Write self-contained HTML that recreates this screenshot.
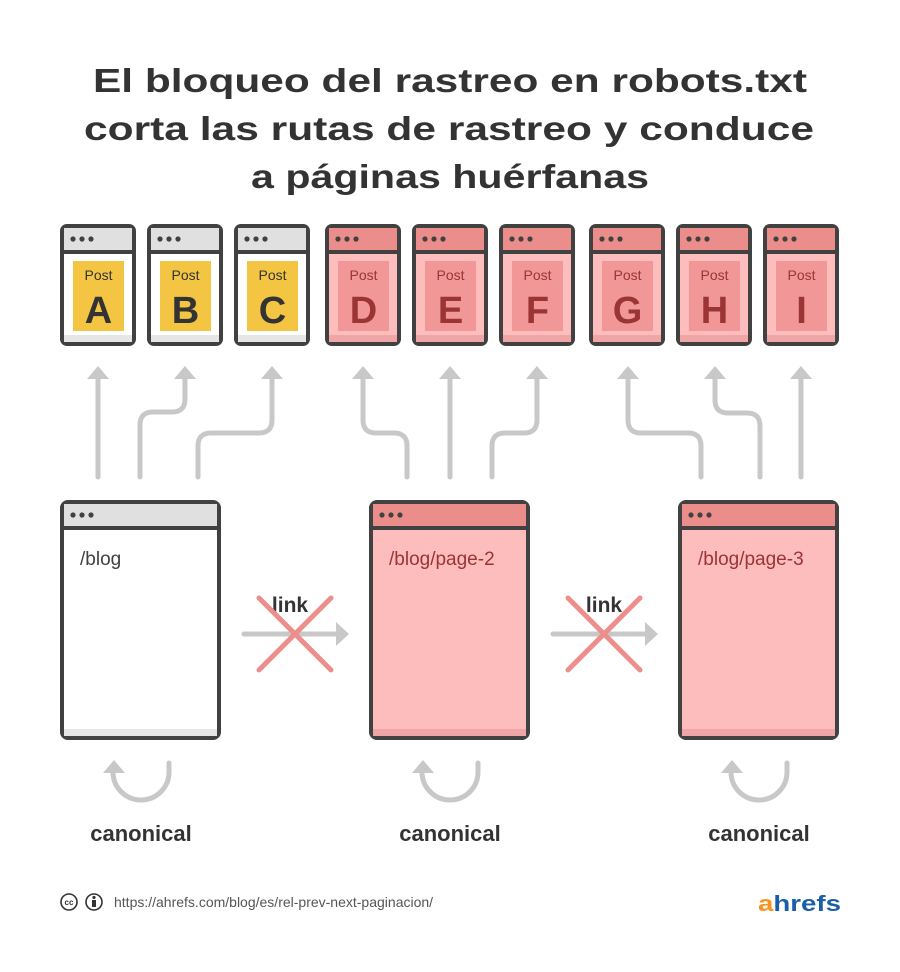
<!DOCTYPE html>
<html><head><meta charset="utf-8"><style>
html,body{margin:0;padding:0;background:#fff;}
svg{display:block;}
text{font-family:"Liberation Sans",sans-serif;}
</style></head><body>
<svg width="900" height="972" viewBox="0 0 900 972" xmlns="http://www.w3.org/2000/svg">
<rect width="900" height="972" fill="#fff"/>
<g fill="#333" font-weight="bold" font-size="33" text-anchor="middle">
<text x="450" y="92" textLength="714" lengthAdjust="spacingAndGlyphs">El bloqueo del rastreo en robots.txt</text>
<text x="449" y="140" textLength="730" lengthAdjust="spacingAndGlyphs">corta las rutas de rastreo y conduce</text>
<text x="450" y="188" textLength="398" lengthAdjust="spacingAndGlyphs">a páginas huérfanas</text>
</g>

<defs>
<g id="dots"><circle cx="0" cy="0" r="2.6" fill="#414141"/><circle cx="9" cy="0" r="2.6" fill="#414141"/><circle cx="18" cy="0" r="2.6" fill="#414141"/></g>
</defs>

<!-- small post cards -->
<g id="cards">
<!-- yellow cards -->
<g>
<rect x="62" y="226" width="72" height="118" rx="5" fill="#fff" stroke="#414141" stroke-width="4"/>
<rect x="64" y="228" width="68" height="23" fill="#e0e0e0"/>
<rect x="64" y="335" width="68" height="7" fill="#e6e6e6"/>
<line x1="62" y1="252" x2="134" y2="252" stroke="#414141" stroke-width="4"/>
<use href="#dots" x="73" y="239"/>
<rect x="73" y="261" width="51" height="70" fill="#f4c542"/>
<text x="98.5" y="280" font-size="14" fill="#333" text-anchor="middle">Post</text>
<text x="98.5" y="323" font-size="38" font-weight="bold" fill="#333" text-anchor="middle">A</text>
</g>
<g>
<rect x="149" y="226" width="72" height="118" rx="5" fill="#fff" stroke="#414141" stroke-width="4"/>
<rect x="151" y="228" width="68" height="23" fill="#e0e0e0"/>
<rect x="151" y="335" width="68" height="7" fill="#e6e6e6"/>
<line x1="149" y1="252" x2="221" y2="252" stroke="#414141" stroke-width="4"/>
<use href="#dots" x="160" y="239"/>
<rect x="160" y="261" width="51" height="70" fill="#f4c542"/>
<text x="185.5" y="280" font-size="14" fill="#333" text-anchor="middle">Post</text>
<text x="185.5" y="323" font-size="38" font-weight="bold" fill="#333" text-anchor="middle">B</text>
</g>
<g>
<rect x="236" y="226" width="72" height="118" rx="5" fill="#fff" stroke="#414141" stroke-width="4"/>
<rect x="238" y="228" width="68" height="23" fill="#e0e0e0"/>
<rect x="238" y="335" width="68" height="7" fill="#e6e6e6"/>
<line x1="236" y1="252" x2="308" y2="252" stroke="#414141" stroke-width="4"/>
<use href="#dots" x="247" y="239"/>
<rect x="247" y="261" width="51" height="70" fill="#f4c542"/>
<text x="272.5" y="280" font-size="14" fill="#333" text-anchor="middle">Post</text>
<text x="272.5" y="323" font-size="38" font-weight="bold" fill="#333" text-anchor="middle">C</text>
</g>
</g>
<g id="pinkcards"></g>

<!-- pink cards generated inline -->
<g>
<!-- D -->
<rect x="327" y="226" width="72" height="118" rx="5" fill="#fdbdbd" stroke="#414141" stroke-width="4"/>
<rect x="329" y="228" width="68" height="23" fill="#eb8e8b"/>
<rect x="329" y="335" width="68" height="7" fill="#f0a6a6"/>
<line x1="327" y1="252" x2="399" y2="252" stroke="#414141" stroke-width="4"/>
<use href="#dots" x="338" y="239"/>
<rect x="338" y="261" width="51" height="70" fill="#f29797"/>
<text x="363.5" y="280" font-size="14" fill="#9b3434" text-anchor="middle">Post</text>
<text x="363.5" y="323" font-size="38" font-weight="bold" fill="#9b3434" text-anchor="middle">D</text>
<!-- E -->
<rect x="414" y="226" width="72" height="118" rx="5" fill="#fdbdbd" stroke="#414141" stroke-width="4"/>
<rect x="416" y="228" width="68" height="23" fill="#eb8e8b"/>
<rect x="416" y="335" width="68" height="7" fill="#f0a6a6"/>
<line x1="414" y1="252" x2="486" y2="252" stroke="#414141" stroke-width="4"/>
<use href="#dots" x="425" y="239"/>
<rect x="425" y="261" width="51" height="70" fill="#f29797"/>
<text x="450.5" y="280" font-size="14" fill="#9b3434" text-anchor="middle">Post</text>
<text x="450.5" y="323" font-size="38" font-weight="bold" fill="#9b3434" text-anchor="middle">E</text>
<!-- F -->
<rect x="501" y="226" width="72" height="118" rx="5" fill="#fdbdbd" stroke="#414141" stroke-width="4"/>
<rect x="503" y="228" width="68" height="23" fill="#eb8e8b"/>
<rect x="503" y="335" width="68" height="7" fill="#f0a6a6"/>
<line x1="501" y1="252" x2="573" y2="252" stroke="#414141" stroke-width="4"/>
<use href="#dots" x="512" y="239"/>
<rect x="512" y="261" width="51" height="70" fill="#f29797"/>
<text x="537.5" y="280" font-size="14" fill="#9b3434" text-anchor="middle">Post</text>
<text x="537.5" y="323" font-size="38" font-weight="bold" fill="#9b3434" text-anchor="middle">F</text>
<!-- G -->
<rect x="591" y="226" width="72" height="118" rx="5" fill="#fdbdbd" stroke="#414141" stroke-width="4"/>
<rect x="593" y="228" width="68" height="23" fill="#eb8e8b"/>
<rect x="593" y="335" width="68" height="7" fill="#f0a6a6"/>
<line x1="591" y1="252" x2="663" y2="252" stroke="#414141" stroke-width="4"/>
<use href="#dots" x="602" y="239"/>
<rect x="602" y="261" width="51" height="70" fill="#f29797"/>
<text x="627.5" y="280" font-size="14" fill="#9b3434" text-anchor="middle">Post</text>
<text x="627.5" y="323" font-size="38" font-weight="bold" fill="#9b3434" text-anchor="middle">G</text>
<!-- H -->
<rect x="678" y="226" width="72" height="118" rx="5" fill="#fdbdbd" stroke="#414141" stroke-width="4"/>
<rect x="680" y="228" width="68" height="23" fill="#eb8e8b"/>
<rect x="680" y="335" width="68" height="7" fill="#f0a6a6"/>
<line x1="678" y1="252" x2="750" y2="252" stroke="#414141" stroke-width="4"/>
<use href="#dots" x="689" y="239"/>
<rect x="689" y="261" width="51" height="70" fill="#f29797"/>
<text x="714.5" y="280" font-size="14" fill="#9b3434" text-anchor="middle">Post</text>
<text x="714.5" y="323" font-size="38" font-weight="bold" fill="#9b3434" text-anchor="middle">H</text>
<!-- I -->
<rect x="765" y="226" width="72" height="118" rx="5" fill="#fdbdbd" stroke="#414141" stroke-width="4"/>
<rect x="767" y="228" width="68" height="23" fill="#eb8e8b"/>
<rect x="767" y="335" width="68" height="7" fill="#f0a6a6"/>
<line x1="765" y1="252" x2="837" y2="252" stroke="#414141" stroke-width="4"/>
<use href="#dots" x="776" y="239"/>
<rect x="776" y="261" width="51" height="70" fill="#f29797"/>
<text x="801.5" y="280" font-size="14" fill="#9b3434" text-anchor="middle">Post</text>
<text x="801.5" y="323" font-size="38" font-weight="bold" fill="#9b3434" text-anchor="middle">I</text>
</g>

<!-- crawl arrows -->
<g fill="none" stroke="#c8c8c8" stroke-width="5" stroke-linecap="round">
<path d="M98 477 V376"/>
<path d="M140 477 V425 Q140 412 153 412 H172 Q185 412 185 399 V376"/>
<path d="M198 477 V446 Q198 433 211 433 H259 Q272 433 272 420 V376"/>
<path d="M363 376 V420 Q363 433 376 433 H394 Q407 433 407 446 V477"/>
<path d="M450 477 V376"/>
<path d="M492 477 V446 Q492 433 505 433 H524 Q537 433 537 420 V376"/>
<path d="M628 376 V420 Q628 433 641 433 H688 Q701 433 701 446 V477"/>
<path d="M715 376 V400 Q715 413 728 413 H747 Q760 413 760 426 V477"/>
<path d="M801 477 V376"/>
</g>
<g fill="#c8c8c8">
<polygon points="98,366 87,379 109,379"/>
<polygon points="185,366 174,379 196,379"/>
<polygon points="272,366 261,379 283,379"/>
<polygon points="363,366 352,379 374,379"/>
<polygon points="450,366 439,379 461,379"/>
<polygon points="537,366 526,379 548,379"/>
<polygon points="628,366 617,379 639,379"/>
<polygon points="715,366 704,379 726,379"/>
<polygon points="801,366 790,379 812,379"/>
</g>

<!-- big pages -->
<g>
<rect x="62" y="502" width="157" height="236" rx="6" fill="#fff" stroke="#414141" stroke-width="4"/>
<rect x="64" y="504" width="153" height="23" fill="#e0e0e0"/>
<rect x="64" y="729" width="153" height="7" fill="#e6e6e6"/>
<line x1="62" y1="528" x2="219" y2="528" stroke="#414141" stroke-width="4"/>
<use href="#dots" x="73" y="515"/>
<text x="80" y="565" font-size="19" fill="#414141">/blog</text>

<rect x="371" y="502" width="157" height="236" rx="6" fill="#fdbdbd" stroke="#414141" stroke-width="4"/>
<rect x="373" y="504" width="153" height="23" fill="#eb8e8b"/>
<rect x="373" y="729" width="153" height="7" fill="#f0a6a6"/>
<line x1="371" y1="528" x2="528" y2="528" stroke="#414141" stroke-width="4"/>
<use href="#dots" x="382" y="515"/>
<text x="389" y="565" font-size="19" fill="#9b3434">/blog/page-2</text>

<rect x="680" y="502" width="157" height="236" rx="6" fill="#fdbdbd" stroke="#414141" stroke-width="4"/>
<rect x="682" y="504" width="153" height="23" fill="#eb8e8b"/>
<rect x="682" y="729" width="153" height="7" fill="#f0a6a6"/>
<line x1="680" y1="528" x2="837" y2="528" stroke="#414141" stroke-width="4"/>
<use href="#dots" x="691" y="515"/>
<text x="698" y="565" font-size="19" fill="#9b3434">/blog/page-3</text>
</g>

<!-- link arrows crossed -->
<g>
<line x1="244" y1="634" x2="336" y2="634" stroke="#c8c8c8" stroke-width="5" stroke-linecap="round"/>
<polygon points="349,634 336,622 336,646" fill="#c8c8c8"/>
<text x="290" y="612" font-size="21" font-weight="bold" fill="#333" text-anchor="middle">link</text>
<g stroke="#ec8f8c" stroke-width="5" stroke-linecap="round">
<line x1="259" y1="598" x2="331" y2="670"/><line x1="331" y1="598" x2="259" y2="670"/>
</g>
<line x1="553" y1="634" x2="645" y2="634" stroke="#c8c8c8" stroke-width="5" stroke-linecap="round"/>
<polygon points="658,634 645,622 645,646" fill="#c8c8c8"/>
<text x="604" y="612" font-size="21" font-weight="bold" fill="#333" text-anchor="middle">link</text>
<g stroke="#ec8f8c" stroke-width="5" stroke-linecap="round">
<line x1="568" y1="598" x2="640" y2="670"/><line x1="640" y1="598" x2="568" y2="670"/>
</g>
</g>

<!-- canonical loops -->
<g fill="none" stroke="#c8c8c8" stroke-width="5" stroke-linecap="round">
<path d="M169 763 V772 A28 28 0 0 1 113 772"/>
<path d="M478 763 V772 A28 28 0 0 1 422 772"/>
<path d="M787 763 V772 A28 28 0 0 1 731 772"/>
</g>
<g fill="#c8c8c8">
<polygon points="114,760 103,773 125,773"/>
<polygon points="423,760 412,773 434,773"/>
<polygon points="732,760 721,773 743,773"/>
</g>
<g font-size="22" font-weight="bold" fill="#333" text-anchor="middle">
<text x="141" y="841">canonical</text>
<text x="450" y="841">canonical</text>
<text x="759" y="841">canonical</text>
</g>

<!-- footer -->
<g fill="none" stroke="#333" stroke-width="1.6">
<circle cx="69" cy="902" r="8"/><circle cx="94" cy="902" r="8"/>
</g>
<text x="69" y="905" font-size="8" font-weight="bold" fill="#333" text-anchor="middle">cc</text>
<circle cx="94" cy="897.5" r="1.6" fill="#333"/>
<rect x="92" y="900" width="4" height="7" fill="#333"/>
<text x="114" y="907" font-size="14" fill="#555">https://ahrefs.com/blog/es/rel-prev-next-paginacion/</text>
<text x="758" y="911" font-size="22" font-weight="bold" fill="#1b5ea8" textLength="83" lengthAdjust="spacingAndGlyphs"><tspan fill="#f7941d">a</tspan>hrefs</text>
</svg>
</body></html>
